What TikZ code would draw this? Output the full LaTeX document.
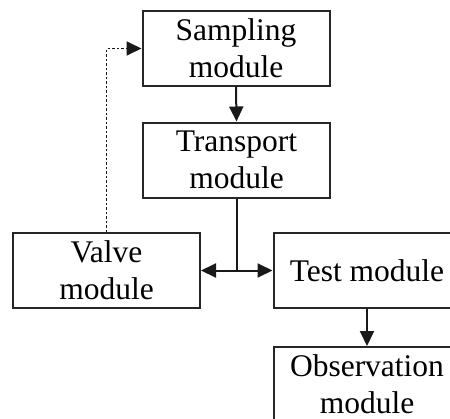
\documentclass[tikz,border=0pt]{standalone}
\usepackage{fontspec}
\setmainfont{Liberation Serif}
\usetikzlibrary{arrows.meta}
\tikzset{
  modbox/.style={draw=black!85, line width=2pt, minimum width=187pt, minimum height=75pt,
    inner sep=0pt, align=center, font=\fontsize{31.5}{37}\selectfont},
  conn/.style={line width=2pt, draw=black!90},
  tip/.style={-{Triangle[length=15pt,width=14pt]}},
  dots/.style={line width=1.8pt, dash pattern=on 2.5pt off 2pt}
}
\begin{document}
\begin{tikzpicture}[x=1pt,y=-1pt]
\useasboundingbox (0,0) rectangle (450,418);
\clip (0,0) rectangle (450,418);
\node[modbox] (samp) at (236,48.5) {Sampling\\module};
\node[modbox] (trans) at (236.5,160) {Transport\\module};
\node[modbox] (valve) at (106.5,270.5) {Valve\\module};
\node[modbox] (test) at (367,270.5) {Test module};
\node[modbox] (obs) at (367,384.5) {Observation\\module};
\coordinate (junc) at (trans.south |- valve.east);
\draw[conn,tip] (samp.south) -- (trans.north);
\draw[conn] (trans.south) -- (junc);
\draw[conn,tip] (junc) -- (valve.east);
\draw[conn,tip] (junc) -- (test.west);
\draw[conn,tip] (test.south) -- (obs.north);
\draw[conn,dots,-{Triangle[length=15pt,width=14pt]}] (valve.north) |- (samp.west);
\end{tikzpicture}
\end{document}
